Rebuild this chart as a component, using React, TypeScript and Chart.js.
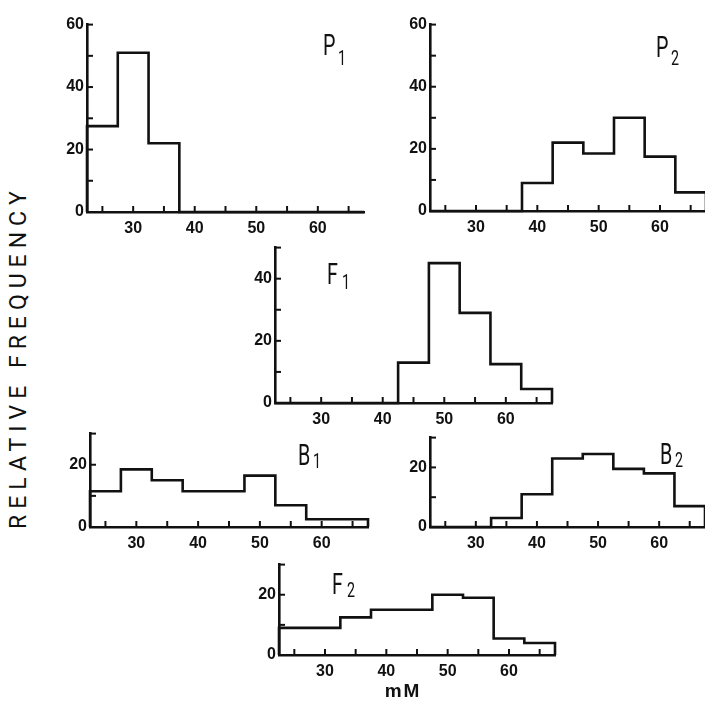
import React, { useEffect, useRef } from 'react';
import { Chart, registerables } from 'chart.js';

Chart.register(...registerables);

// ---- data ----
const binEdges = [22.5, 27.5, 32.5, 37.5, 42.5, 47.5, 52.5, 57.5, 62.5];
const rangeEnd = 67.5;
const xTickLabels = [30, 40, 50, 60];
const xTickMarks = [25, 30, 35, 40, 45, 50, 55, 60, 65];
const yTickMarks = [10, 20, 30, 40, 50, 60];

const p1Values = [27.5, 51, 22, 0, 0, 0, 0, 0, 0];
const p2Values = [0, 0, 0, 9, 22, 18.5, 30, 17.5, 6];
const f1Values = [0, 0, 0, 0, 13, 45, 29, 12.5, 4.5];
const b1Values = [11.5, 18.5, 15, 11.5, 11.5, 16.5, 7, 2.5, 2.5];
const b2Values = [0, 0, 3, 11, 23, 24.5, 19.5, 18, 7];
const f2Values = [9, 9, 12.5, 15, 15, 20, 19, 5.5, 4];

const yLabels60 = [0, 20, 40, 60];
const yLabels50 = [0, 20, 40];
const yLabels30 = [0, 20];

type Spec = {
  left: number; right: number; top: number; bottom: number;
  yMax: number; values: number[]; yLabels: number[];
};

const panels: Spec[] = [
  { left: 87, right: 364, top: 22, bottom: 212, yMax: 60, values: p1Values, yLabels: yLabels60 },
  { left: 430, right: 706, top: 22, bottom: 211, yMax: 60, values: p2Values, yLabels: yLabels60 },
  { left: 275, right: 552, top: 245, bottom: 403, yMax: 50, values: f1Values, yLabels: yLabels50 },
  { left: 90, right: 368, top: 431, bottom: 527, yMax: 30, values: b1Values, yLabels: yLabels30 },
  { left: 430, right: 705, top: 435, bottom: 527, yMax: 30, values: b2Values, yLabels: yLabels30 },
  { left: 279, right: 555, top: 562, bottom: 655, yMax: 30, values: f2Values, yLabels: yLabels30 },
];

const INK = '#111';
const YW = 44, XH = 30, PT = 10, PR = 6;

const inwardTicks = {
  id: 'inwardTicks',
  afterDraw(chart: any) {
    const { ctx, chartArea, scales } = chart;
    const xs = scales.x, ys = scales.y;
    ctx.save();
    ctx.strokeStyle = INK;
    ctx.lineWidth = 2;
    xTickMarks.forEach((v) => {
      const px = xs.getPixelForValue(v);
      ctx.beginPath();
      ctx.moveTo(px, chartArea.bottom);
      ctx.lineTo(px, chartArea.bottom - 6);
      ctx.stroke();
    });
    yTickMarks.filter((v) => v <= ys.max).forEach((v) => {
      const py = ys.getPixelForValue(v);
      ctx.beginPath();
      ctx.moveTo(chartArea.left, py);
      ctx.lineTo(chartArea.left + 6, py);
      ctx.stroke();
    });
    ctx.restore();
  },
};

function Panel({ spec }: { spec: Spec }) {
  const ref = useRef<HTMLCanvasElement>(null);
  const W = spec.right - spec.left + YW + PR;
  const H = spec.bottom - spec.top + PT + XH;
  useEffect(() => {
    if (!ref.current) return;
    const pts = [
      { x: binEdges[0], y: 0 },
      ...binEdges.map((e, i) => ({ x: e, y: spec.values[i] })),
      { x: rangeEnd, y: 0 },
    ];
    const tickFont = { family: '"Liberation Sans", Arial, sans-serif', size: 16, weight: 'bold' as const };
    const chart = new Chart(ref.current, {
      type: 'line',
      data: {
        datasets: [
          {
            data: pts,
            stepped: 'before',
            borderColor: INK,
            borderWidth: 2.6,
            pointRadius: 0,
            fill: false,
            clip: false as any,
            borderJoinStyle: 'miter',
            borderCapStyle: 'butt',
          } as any,
        ],
      },
      options: {
        animation: false,
        responsive: false,
        maintainAspectRatio: false,
        events: [],
        layout: { padding: { top: PT, right: PR, left: 0, bottom: 0 } },
        plugins: { legend: { display: false }, tooltip: { enabled: false } },
        scales: {
          x: {
            type: 'linear',
            min: binEdges[0],
            max: rangeEnd,
            afterFit: (s: any) => { s.height = XH; },
            afterBuildTicks: (s: any) => { s.ticks = xTickLabels.map((v) => ({ value: v })); },
            grid: { display: true, drawOnChartArea: false, drawTicks: false, color: 'rgba(0,0,0,0)' },
            border: { display: true, color: INK, width: 2.6 },
            ticks: { font: tickFont, color: INK, padding: 7, maxRotation: 0, autoSkip: false },
          },
          y: {
            type: 'linear',
            min: 0,
            max: spec.yMax,
            afterFit: (s: any) => { s.width = YW; },
            afterBuildTicks: (s: any) => { s.ticks = spec.yLabels.map((v) => ({ value: v })); },
            grid: { display: true, drawOnChartArea: false, drawTicks: false, color: 'rgba(0,0,0,0)' },
            border: { display: true, color: INK, width: 2.6 },
            ticks: { font: tickFont, color: INK, padding: 3, autoSkip: false },
          },
        },
      } as any,
      plugins: [inwardTicks],
    });
    return () => chart.destroy();
  }, []);
  return (
    <canvas
      ref={ref}
      width={W}
      height={H}
      style={{ position: 'absolute', left: spec.left - YW, top: spec.top - PT, width: W, height: H }}
    />
  );
}

type LabelSpec = { main: string; sub: string; mx: number; my: number; sx: number; sy: number };
const panelLabels: LabelSpec[] = [
  { main: 'P', sub: '1', mx: 323, my: 35, sx: 338, sy: 51 },
  { main: 'P', sub: '2', mx: 656, my: 37, sx: 671, sy: 51 },
  { main: 'F', sub: '1', mx: 327, my: 264, sx: 342, sy: 275 },
  { main: 'B', sub: '1', mx: 298, my: 445, sx: 313, sy: 454 },
  { main: 'B', sub: '2', mx: 660, my: 444, sx: 675, sy: 453 },
  { main: 'F', sub: '2', mx: 332, my: 574, sx: 347, sy: 583 },
];

const labelFont = 'Roboto, "Liberation Sans", sans-serif';
const MAIN_FS = 29;
const SUB_FS = 21;

function Glyph({ text, x, y, fs }: { text: string; x: number; y: number; fs: number }) {
  return (
    <span
      style={{
        position: 'absolute',
        left: x,
        top: y - 0.13 * fs,
        fontFamily: labelFont,
        fontWeight: 400,
        fontSize: fs,
        lineHeight: 1,
        color: INK,
        display: 'inline-block',
        transform: 'scaleX(0.68)',
        transformOrigin: 'left top',
        whiteSpace: 'nowrap',
      }}
    >
      {text}
    </span>
  );
}

export default function App() {
  return (
    <div
      style={{
        position: 'fixed', left: 0, top: 0, width: 705, height: 702,
        overflow: 'hidden', background: '#fff',
      }}
    >
      {panels.map((p, i) => (
        <Panel key={i} spec={p} />
      ))}
      {panelLabels.map((l, i) => (
        <React.Fragment key={i}>
          <Glyph text={l.main} x={l.mx} y={l.my} fs={MAIN_FS} />
          <Glyph text={l.sub} x={l.sx} y={l.sy} fs={SUB_FS} />
        </React.Fragment>
      ))}
      <div
        style={{
          position: 'absolute', left: 18, top: 357,
          transform: 'translate(-50%, -50%) rotate(-90deg)',
          fontFamily: labelFont, fontWeight: 400, fontSize: 23,
          letterSpacing: 6, whiteSpace: 'nowrap', color: INK, lineHeight: 1,
        }}
      >
        RELATIVE FREQUENCY
      </div>
      <div
        style={{
          position: 'absolute', left: 403, top: 690,
          transform: 'translate(-50%, -50%)',
          fontFamily: '"Liberation Sans", Arial, sans-serif', fontWeight: 'bold', fontSize: 19,
          letterSpacing: 2, whiteSpace: 'nowrap', color: INK, lineHeight: 1,
        }}
      >
        mM
      </div>
    </div>
  );
}
